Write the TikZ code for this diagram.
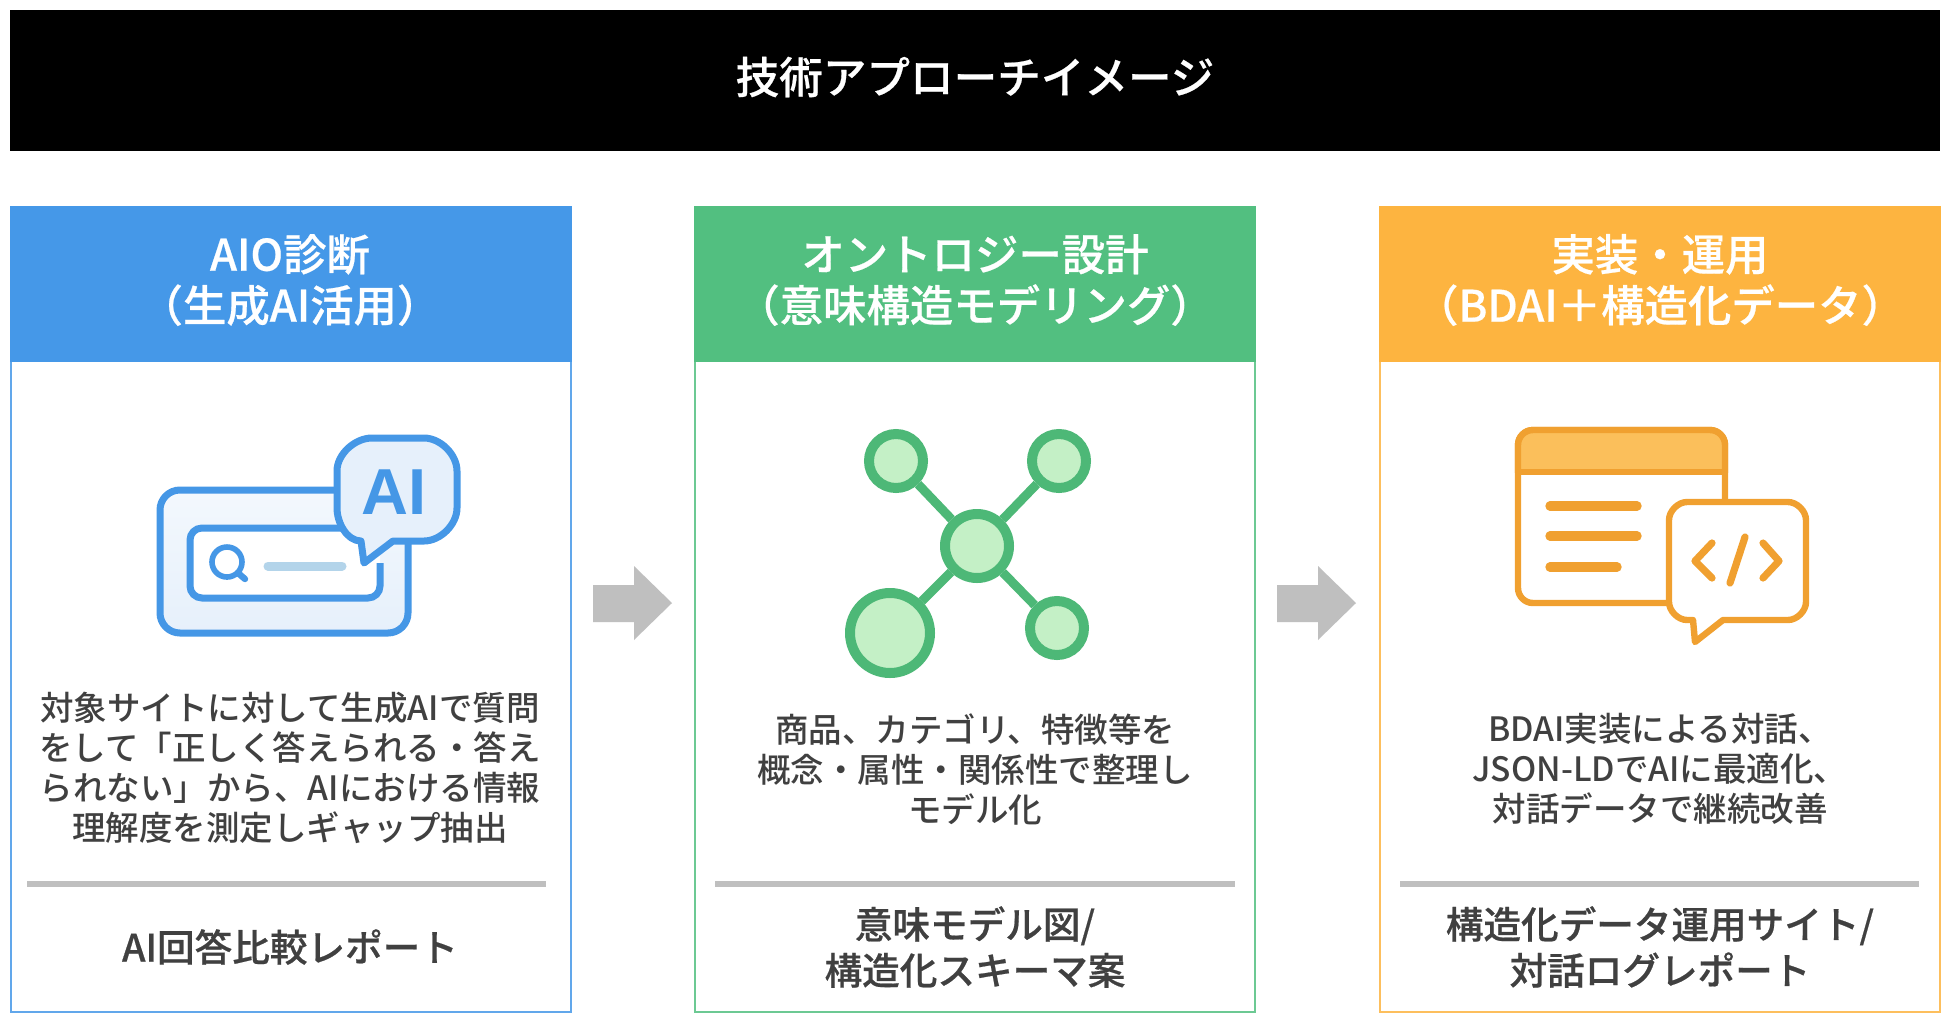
\documentclass[tikz,border=0pt]{standalone}
\usepackage{fontspec}
\setmainfont{Noto Sans CJK JP}[BoldFont={Noto Sans CJK JP Bold}]
\newfontfamily\medfont{Noto Sans CJK JP Medium}
\newfontfamily\semifont{Noto Sans CJK JP Medium}[FakeBold=0.5]
\newfontfamily\latinbold{Liberation Sans Bold}
\definecolor{cblue}{HTML}{4598E8}
\definecolor{cgreen}{HTML}{52BF80}
\definecolor{corange}{HTML}{FDB440}
\definecolor{iblue}{HTML}{4597E6}
\definecolor{iblueL}{HTML}{E6F0FB}
\definecolor{iblueT}{HTML}{F3F8FD}
\definecolor{ibar}{HTML}{B3D4EA}
\definecolor{igreen}{HTML}{4DB877}
\definecolor{igreenL}{HTML}{C4F0C6}
\definecolor{iorange}{HTML}{F0A030}
\definecolor{iorangeL}{HTML}{FBBF5B}
\definecolor{txt}{HTML}{404040}
\definecolor{rulegray}{HTML}{BFBFBF}
\tikzset{
  x=.5pt,y=-.5pt,
  cardbody/.style={draw=#1!85!white,line width=1.2pt,fill=white,minimum width=280pt,minimum height=402.5pt,inner sep=0,anchor=north west},
  cardhead/.style={fill=#1,minimum width=281pt,minimum height=78pt,inner sep=0,anchor=north west},
  headtxt/.style={text=white,font=\semifont\fontsize{21.7}{25.5}\selectfont,align=center},
  bodytxt/.style={text=txt,font=\medfont\fontsize{16.75}{20}\selectfont,align=center},
  outtxt/.style={text=txt,font=\semifont\fontsize{18.8}{23}\selectfont,align=center},
  rulebar/.style={draw=rulegray,line width=3pt},
  arrowshape/.style={fill=rulegray},
  netnode/.style={circle,draw=igreen,fill=igreenL,line width=5pt,inner sep=0,minimum size=#1},
  netlink/.style={draw=igreen,line width=4.5pt},
}
\begin{document}
\begin{tikzpicture}
\useasboundingbox (0,0) rectangle (1950,1025);
\fill[white] (0,0) rectangle (1950,1025);
% title band
\node[fill=black,minimum width=965pt,minimum height=70.5pt,inner sep=0,anchor=north west] (band) at (10,10) {};
\node[text=white,font=\semifont\fontsize{21.8}{26}\selectfont] (title) at (975,77) {技術アプローチイメージ};
% cards
\node[cardbody=cblue] (c1) at (10,206) {};
\node[cardbody=cgreen] (c2) at (694,206) {};
\node[cardbody=corange] (c3) at (1379,206) {};
\node[cardhead=cblue] (h1) at (10,206) {};
\node[cardhead=cgreen] (h2) at (694,206) {};
\node[cardhead=corange] (h3) at (1379,206) {};
\node[headtxt] (t1) at (290,280) {AIO診断\\（生成AI活用）};
\node[headtxt] (t2) at (975,280) {オントロジー設計\\（意味構造モデリング）};
\node[headtxt] (t3) at (1660,280) {実装・運用\\（BDAI＋構造化データ）};
% body
\node[bodytxt] (b1) at (290,768) {対象サイトに対して生成AIで質問\\をして「正しく答えられる・答え\\られない」から、AIにおける情報\\理解度を測定しギャップ抽出};
\node[bodytxt] (b2) at (975,769) {商品、カテゴリ、特徴等を\\概念・属性・関係性で整理し\\モデル化};
\node[bodytxt] (b3) at (1660,769) {BDAI実装による対話、\\JSON-LDでAIに最適化、\\対話データで継続改善};
% rules
\draw[rulebar] (27,884) -- (546,884);
\draw[rulebar] (715,884) -- (1235,884);
\draw[rulebar] (1400,884) -- (1919,884);
% outputs
\node[outtxt] (o1) at (290,947) {AI回答比較レポート};
\node[outtxt] (o2) at (975,947) {意味モデル図/\\構造化スキーマ案};
\node[outtxt] (o3) at (1660,947) {構造化データ運用サイト/\\対話ログレポート};
% arrows
\fill[arrowshape] (593,585) -- (634,585) -- (634,566) -- (672,603) -- (634,640) -- (634,622) -- (593,622) -- cycle;
\fill[arrowshape] (1277,585) -- (1318,585) -- (1318,566) -- (1356,603) -- (1318,640) -- (1318,622) -- (1277,622) -- cycle;
% icon 1
\draw[iblue,top color=iblueT,bottom color=iblueL,line width=3.5pt,rounded corners=10pt] (160,490) rectangle (408,633);
\fill[white,rounded corners=5pt] (190,528) rectangle (380,598);
\draw[iblue,line width=3.5pt,rounded corners=6pt] (380,563) -- (380,598) -- (190,598) -- (190,528) -- (350,528);
\draw[iblue,line width=2.8pt] (227,562) circle[radius=15];
\draw[iblue,line width=3.2pt,line cap=round] (238,573) -- (245,579);
\draw[ibar,line width=4.5pt,line cap=round] (268,566) -- (342,566);
\draw[iblue,fill=iblueL,line width=3.5pt,line join=round]
  (372,438) -- (424,438) to[out=0,in=90,looseness=.9] (457,471) -- (457,508) to[out=-90,in=0,looseness=.9] (424,541)
  -- (393,541) -- (364,563) -- (361,541) to[out=180,in=-90,looseness=.9] (337,508) -- (337,471) to[out=90,in=180,looseness=.9] (372,438) -- cycle;
\node[text=iblue,font=\latinbold\fontsize{32.5}{32.5}\selectfont,inner sep=0] (ailabel) at (394,492) {AI};
% icon 2
\node[netnode=32pt] (nc) at (977,546) {};
\node[netnode=27pt] (ntl) at (896,461) {};
\node[netnode=27pt] (ntr) at (1059,461) {};
\node[netnode=40pt] (nbl) at (890,633) {};
\node[netnode=27pt] (nbr) at (1057,628) {};
\draw[netlink] (nc) -- (ntl);
\draw[netlink] (nc) -- (ntr);
\draw[netlink] (nc) -- (nbl);
\draw[netlink] (nc) -- (nbr);
% icon 3
\draw[iorange,fill=white,line width=3.2pt,rounded corners=7.5pt] (1518,430) rectangle (1725,603);
\begin{scope}
\clip (1505,420) rectangle (1740,472);
\draw[iorange,fill=iorangeL,line width=3.2pt,rounded corners=7.5pt] (1518,430) rectangle (1725,603);
\end{scope}
\draw[iorange,line width=3.2pt] (1518,472) -- (1725,472);
\draw[iorange,line width=4.7pt,line cap=round] (1550,506) -- (1637,506);
\draw[iorange,line width=4.7pt,line cap=round] (1550,536) -- (1637,536);
\draw[iorange,line width=4.7pt,line cap=round] (1550,567) -- (1617,567);
\draw[iorange,fill=white,line width=3.2pt,line join=round]
  (1687,502) -- (1788,502) to[out=0,in=90,looseness=.9] (1806,520) -- (1806,602) to[out=-90,in=0,looseness=.9] (1788,620)
  -- (1723,620) -- (1695,642) -- (1693,620) -- (1687,620) to[out=180,in=-90,looseness=.9] (1669,602) -- (1669,520) to[out=90,in=180,looseness=.9] (1687,502) -- cycle;
\draw[iorange,line width=3.6pt,line cap=round,line join=round] (1712,543) -- (1695,561) -- (1712,578);
\draw[iorange,line width=3.6pt,line cap=round] (1745,537) -- (1730,583);
\draw[iorange,line width=3.6pt,line cap=round,line join=round] (1763,543) -- (1779,561) -- (1763,578);
\end{tikzpicture}
\end{document}
